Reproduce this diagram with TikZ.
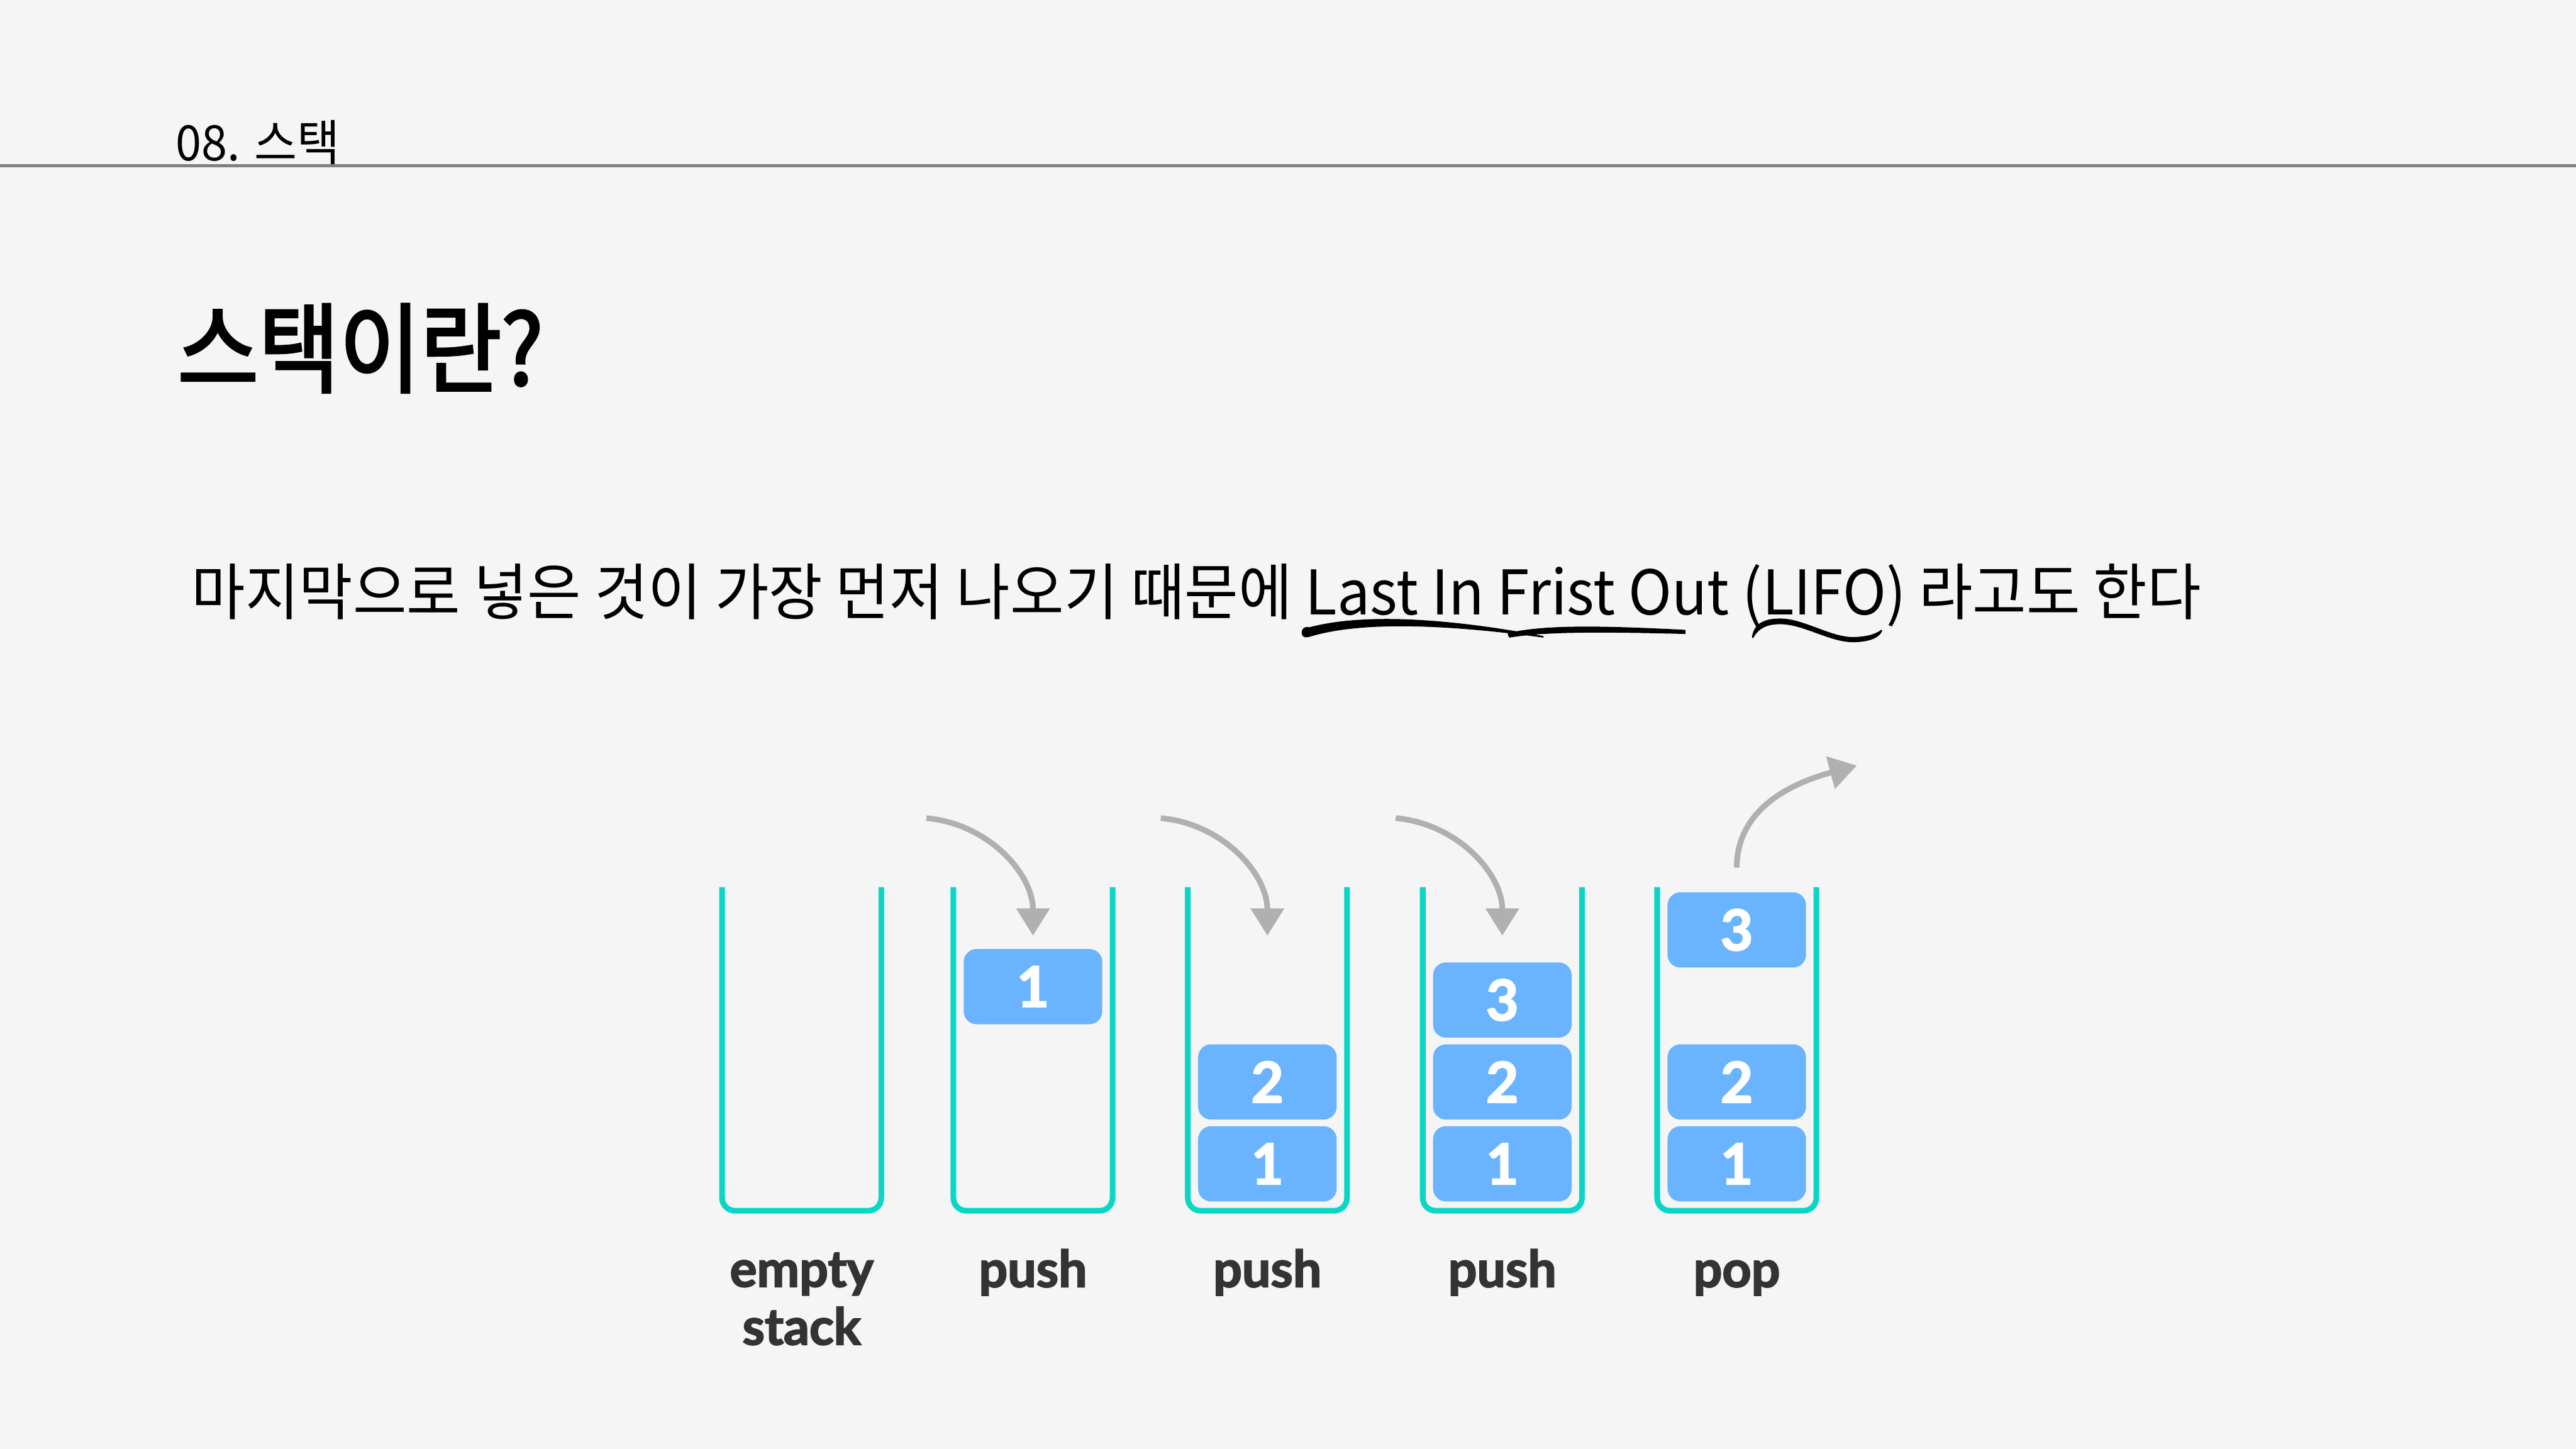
\documentclass[tikz,border=0pt]{standalone}
\usepackage{fontspec}
\usepackage{tikz}
\usetikzlibrary{arrows.meta,positioning,calc}
\newfontfamily\krfont{Noto Sans CJK KR}[FakeStretch=0.95]
\newfontfamily\krtitle{Noto Sans CJK KR}[FakeStretch=0.9,FakeBold=2.5]
\newfontfamily\latofont{Lato}[BoldFeatures={FakeBold=2.5}]
\definecolor{PageBg}{HTML}{F5F5F5}
\definecolor{RuleGray}{HTML}{808080}
\definecolor{StackTeal}{HTML}{0AD6C6}
\definecolor{ItemBlue}{HTML}{6AB4FF}
\definecolor{ArrowGray}{HTML}{B0B0B0}
\definecolor{LabelInk}{HTML}{333333}
\tikzset{
  stackwall/.style={draw=StackTeal,line width=1.1mm,rounded corners=2.5mm},
  itembox/.style={fill=ItemBlue,rounded corners=2.5mm,minimum width=26.9mm,minimum height=14.6mm,
    inner sep=0pt,text=white,font=\latofont\bfseries\fontsize{31}{36}\selectfont},
  oplabel/.style={text=LabelInk,align=center,inner sep=0pt,font=\latofont\bfseries\fontsize{28}{32}\selectfont},
  movearrow/.style={-{Triangle[width=6.3mm,length=5.3mm]},line width=1.1mm,draw=ArrowGray},
  brush/.style={fill=black,draw=black,line width=0.3mm,line join=round}
}
\begin{document}
\begin{tikzpicture}[x=1cm,y=1cm]
  \fill[PageBg] (0,0) rectangle (50,-28.12);
  \useasboundingbox (0,0) rectangle (50,-28.12);

  % header
  \node[anchor=base west,inner sep=0pt,font=\krfont\fontsize{27}{32}\selectfont] (chapter) at (3.41,-3.12) {08. 스택};
  \draw[RuleGray,line width=0.6mm] (0,-3.22) -- (50,-3.22);

  \node[anchor=base west,inner sep=0pt,font=\krtitle\fontsize{54}{60}\selectfont] (title) at (3.44,-7.47) {스택이란?};
  \node[anchor=base west,inner sep=0pt,font=\krfont\fontsize{34}{40}\selectfont] (desc) at (3.71,-11.93)
    {마지막으로 넣은 것이 가장 먼저 나오기 때문에 Last In Frist Out (LIFO) 라고도 한다};

  % hand-drawn underlines
  \fill[brush] (25.28,-12.28) .. controls (25.28,-12.20) and (25.34,-12.17) .. (25.42,-12.19)
    .. controls (26.2,-11.98) and (27.6,-11.92) .. (29.95,-12.36)
    .. controls (27.6,-12.04) and (26.2,-12.10) .. (25.40,-12.35)
    .. controls (25.32,-12.37) and (25.28,-12.34) .. (25.28,-12.28) -- cycle;
  \fill[brush] (29.28,-12.30) .. controls (29.9,-12.16) and (30.8,-12.14) .. (32.70,-12.24)
    -- (32.70,-12.29) .. controls (30.8,-12.24) and (29.9,-12.26) .. (29.30,-12.36) -- cycle;
  \fill[brush] (34.02,-12.37) .. controls (34.05,-12.15) and (34.2,-12.02) .. (34.55,-12.02)
    .. controls (35.0,-12.02) and (35.5,-12.37) .. (35.95,-12.38)
    .. controls (36.2,-12.38) and (36.4,-12.33) .. (36.52,-12.24)
    .. controls (36.45,-12.40) and (36.2,-12.45) .. (35.95,-12.45)
    .. controls (35.5,-12.44) and (35.0,-12.10) .. (34.55,-12.10)
    .. controls (34.25,-12.10) and (34.1,-12.22) .. (34.02,-12.37) -- cycle;

  % stack containers
  \foreach \i/\x in {1/15.56,2/20.05,3/24.60,4/29.16,5/33.71} {
    \draw[stackwall] (\x-1.545,-17.22) -- (\x-1.545,-23.50) -- (\x+1.545,-23.50) -- (\x+1.545,-17.22);
    \coordinate (top\i) at (\x,-17.22);
  }

  % items
  \node[itembox] (b21) at (20.05,-19.15) {1};
  \node[itembox] (b31) at (24.60,-22.59) {1};
  \node[itembox] (b32) at (24.60,-21.00) {2};
  \node[itembox] (b41) at (29.16,-22.59) {1};
  \node[itembox] (b42) at (29.16,-21.00) {2};
  \node[itembox] (b43) at (29.16,-19.41) {3};
  \node[itembox] (b51) at (33.71,-22.59) {1};
  \node[itembox] (b52) at (33.71,-21.00) {2};
  \node[itembox] (b53) at (33.71,-18.05) {3};

  % operation labels
  \node[oplabel,anchor=base] (op1) at (15.56,-26.10) {empty\\stack};
  \node[oplabel,anchor=base] (op2) at (20.05,-24.98) {push};
  \node[oplabel,anchor=base] (op3) at (24.60,-24.98) {push};
  \node[oplabel,anchor=base] (op4) at (29.16,-24.98) {push};
  \node[oplabel,anchor=base] (op5) at (33.71,-24.98) {pop};

  % arrows
  \coordinate (from2) at (17.98,-15.88);
  \coordinate (into2) at (20.05,-18.16);
  \coordinate (from3) at (22.53,-15.88);
  \coordinate (into3) at (24.60,-18.16);
  \coordinate (from4) at (27.09,-15.88);
  \coordinate (into4) at (29.16,-18.16);
  \coordinate (from5) at (33.71,-16.84);
  \coordinate (out5) at (36.04,-14.86);
  \draw[movearrow] (from2) to[out=-5,in=90] (into2);
  \draw[movearrow] (from3) to[out=-5,in=90] (into3);
  \draw[movearrow] (from4) to[out=-5,in=90] (into4);
  \draw[movearrow] (from5) to[out=90,in=195] (out5);
\end{tikzpicture}
\end{document}
